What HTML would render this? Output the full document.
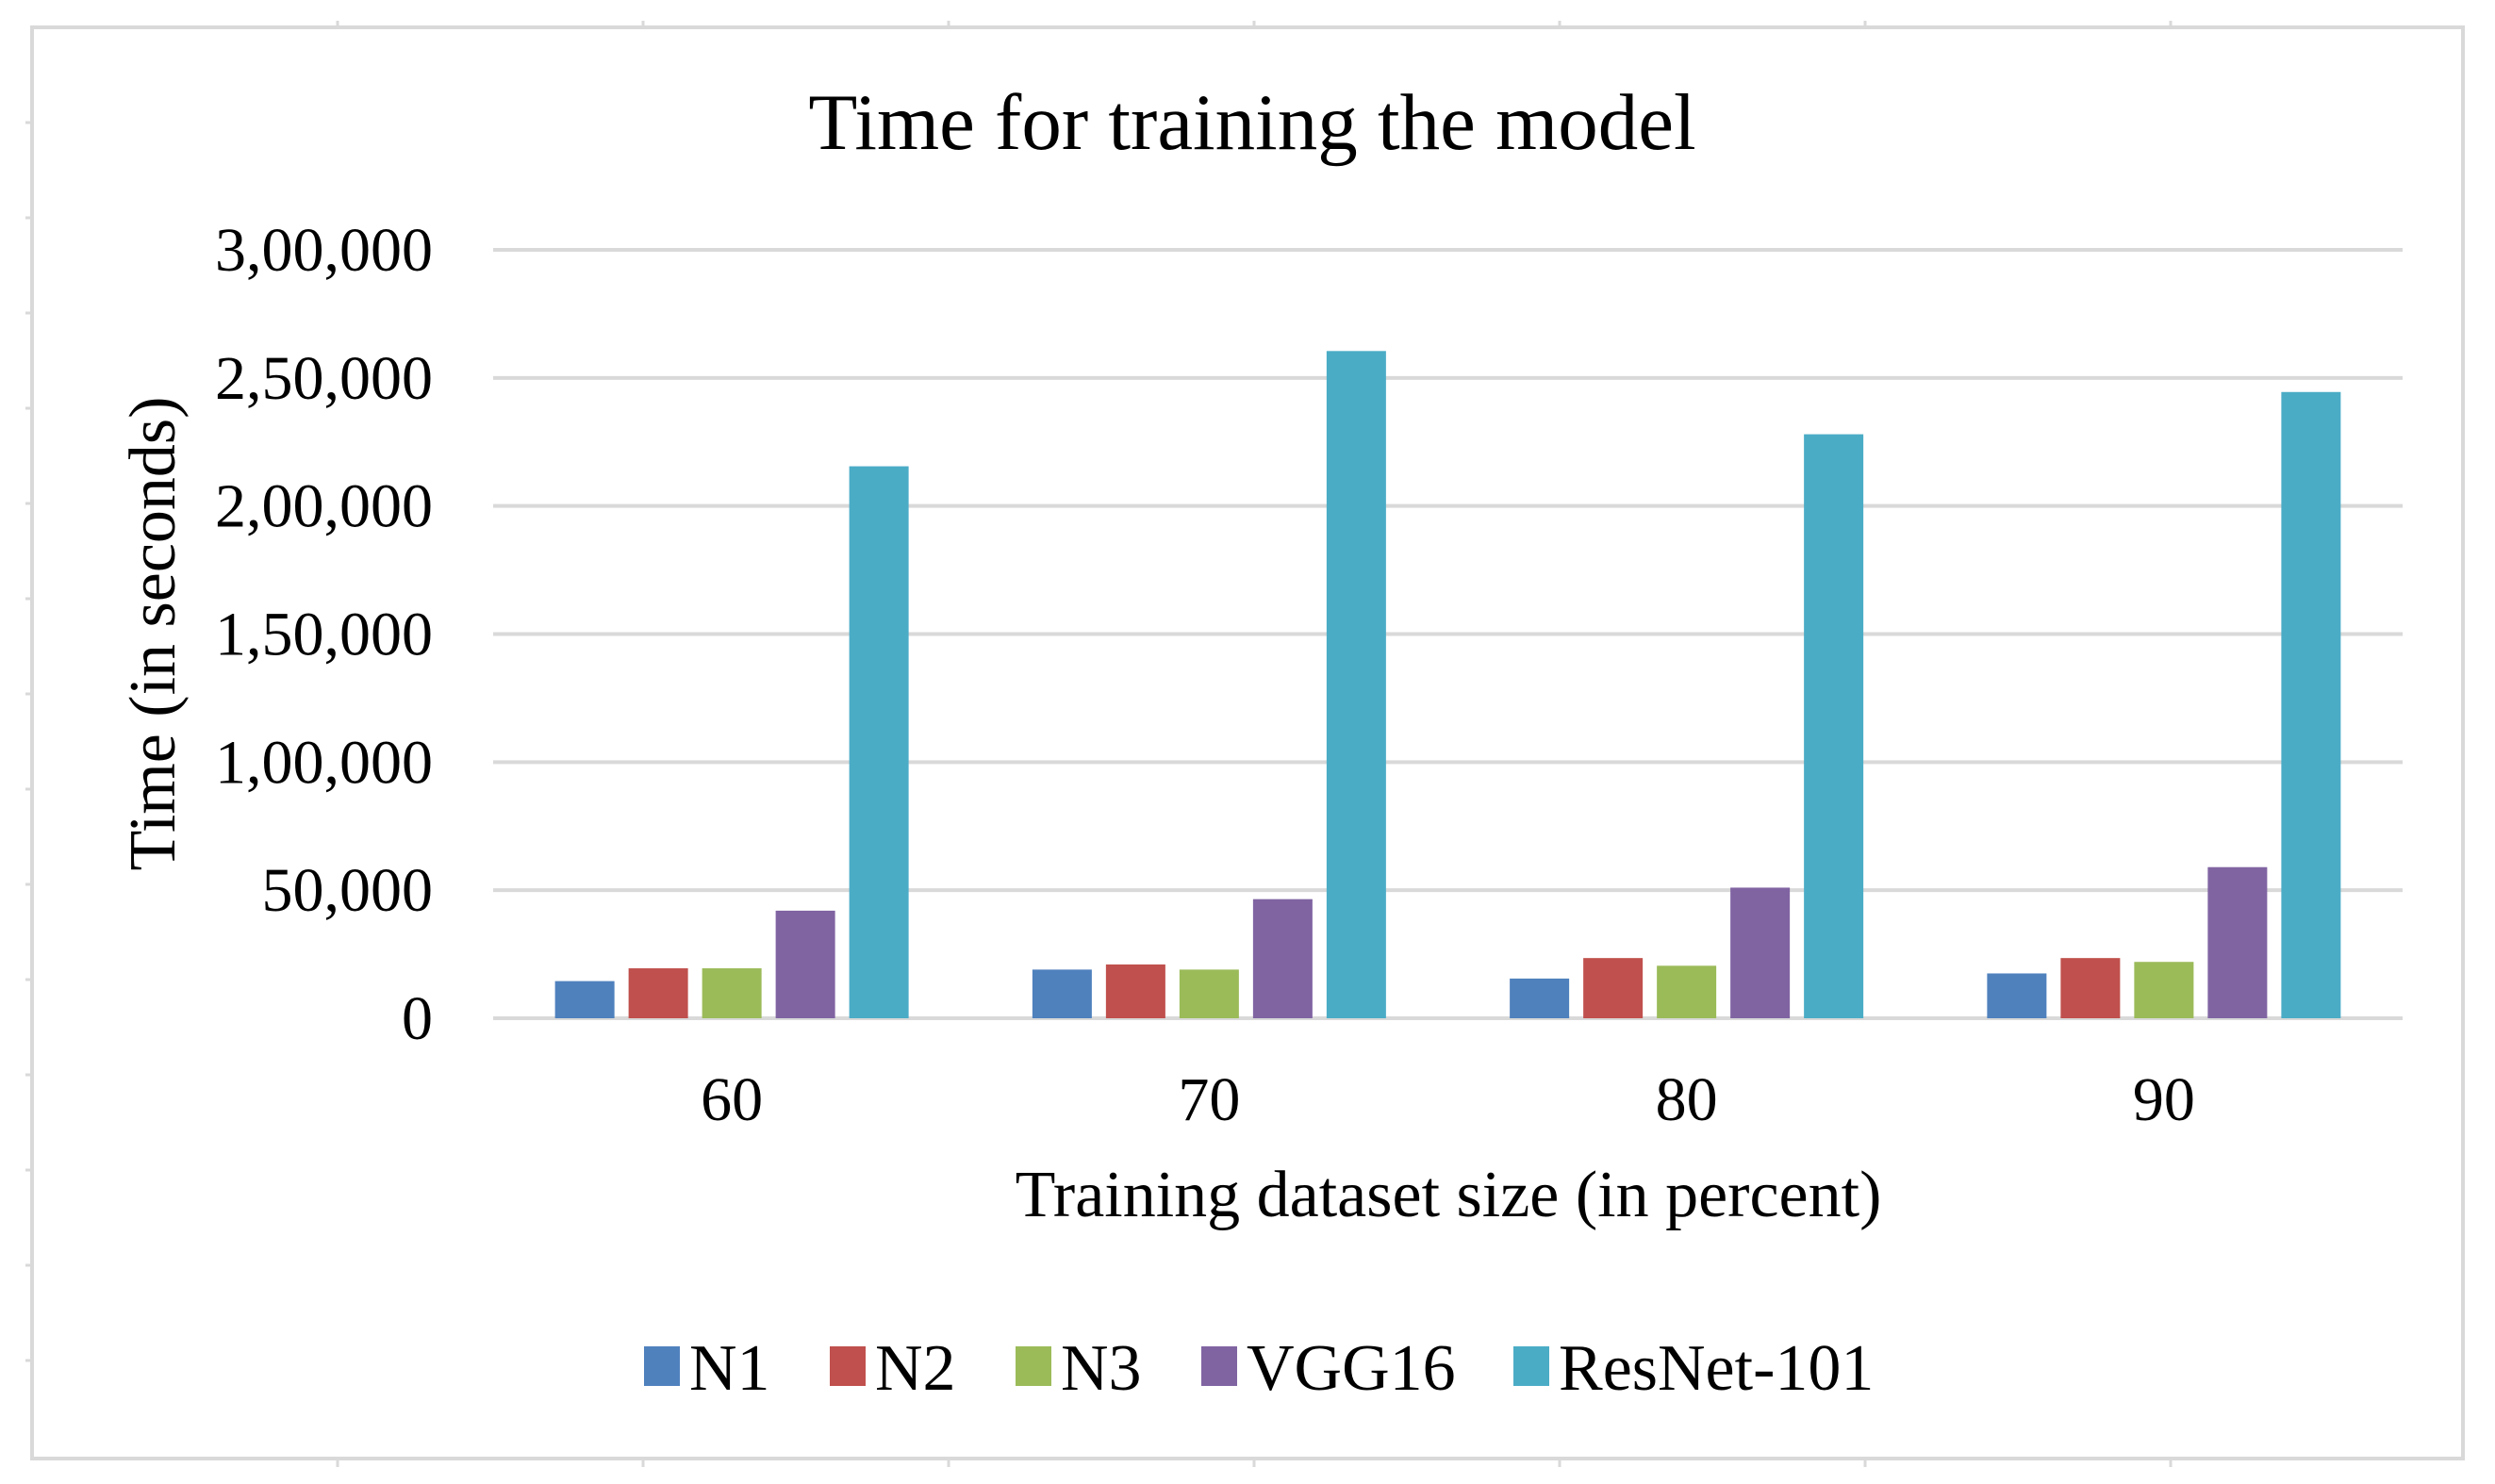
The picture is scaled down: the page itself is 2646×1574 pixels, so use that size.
<!DOCTYPE html>
<html><head><meta charset="utf-8"><style>
html,body{margin:0;padding:0;background:#fff;}
svg{display:block;font-family:"Liberation Serif",serif;}
</style></head><body>
<svg id="chart" width="2646" height="1574" viewBox="0 0 2646 1574" xmlns="http://www.w3.org/2000/svg">
<rect x="34" y="29" width="2578" height="1518" fill="#fff" stroke="#d9d9d9" stroke-width="4"/>
<g id="frameTicks"></g>
<text x="1328" y="158" font-size="85" text-anchor="middle" fill="#000">Time for training the model</text>
<g id="grid"></g>
<g id="bars"></g>
<g id="yticks"></g>
<g id="xticks"></g>
<text transform="translate(185,672) rotate(-90)" font-size="70" text-anchor="middle" fill="#000">Time (in seconds)</text>
<text x="1536" y="1290" font-size="70" text-anchor="middle" fill="#000">Training dataset size (in percent)</text>
<g id="legend"></g>
</svg>
<script>
const categories = ["60", "70", "80", "90"];
const seriesNames = ["N1", "N2", "N3", "VGG16", "ResNet-101"];
const n1 = [14500, 19000, 15500, 17500];
const n2 = [19500, 21000, 23500, 23500];
const n3 = [19500, 19000, 20500, 22000];
const vgg16 = [42000, 46500, 51000, 59000];
const resnet101 = [215500, 260500, 228000, 244500];
const yTicks = [0, 50000, 100000, 150000, 200000, 250000, 300000];
const yTickLabels = ["0", "50,000", "1,00,000", "1,50,000", "2,00,000", "2,50,000", "3,00,000"];

const seriesValues = [n1, n2, n3, vgg16, resnet101];
const colors = ["#4F81BD", "#C0504D", "#9BBB59", "#8064A2", "#4BACC6"];
const NS = "http://www.w3.org/2000/svg";
const plotL = 523, plotR = 2548, plotTop = 265, plotBot = 1080, yMax = 300000;
const catW = (plotR - plotL) / categories.length;
function yScale(v){ return plotBot - (v / yMax) * (plotBot - plotTop); }
function xCenter(i){ return plotL + catW * (i + 0.5); }
const barW = 63, barStep = 78;
function mk(tag, attrs, parent){ const e = document.createElementNS(NS, tag); for (const k in attrs) e.setAttribute(k, attrs[k]); parent.appendChild(e); return e; }

const ft = document.getElementById('frameTicks');
for (let i = 0; i < 8; i++) {
  const x = 358 + i * 324;
  if (x > 2600) break;
  mk('line', {x1:x, y1:22, x2:x, y2:29, stroke:'#d9d9d9', 'stroke-width':3}, ft);
  mk('line', {x1:x, y1:1547, x2:x, y2:1556, stroke:'#d9d9d9', 'stroke-width':3}, ft);
}
for (let y = 130; y < 1540; y += 101) {
  mk('line', {x1:27, y1:y, x2:34, y2:y, stroke:'#d9d9d9', 'stroke-width':3}, ft);
}

const grid = document.getElementById('grid');
const yt = document.getElementById('yticks');
yTicks.forEach((v, i) => {
  const y = yScale(v);
  const l = mk('line', {x1:plotL, y1:y, x2:plotR, y2:y, stroke:'#d9d9d9', 'stroke-width':4}, grid);
  
  
  const t = mk('text', {x:459, y:y + 22, 'font-size':66, 'text-anchor':'end', fill:'#000'}, yt);
  
  
  t.textContent = yTickLabels[i];
});

const bars = document.getElementById('bars');
const xt = document.getElementById('xticks');
categories.forEach((c, i) => {
  const cx = xCenter(i);
  seriesValues.forEach((vals, s) => {
    const x = cx + (s - 2) * barStep - barW / 2;
    const y = yScale(vals[i]);
    const r = mk('rect', {x:x, y:y, width:barW, height:plotBot - y, fill:colors[s]}, bars);
    
    
  });
  const t = mk('text', {x:cx, y:1188, 'font-size':66, 'text-anchor':'middle', fill:'#000'}, xt);
  
  
  t.textContent = c;
});

const lg = document.getElementById('legend');
const legX = [683, 880, 1077, 1274, 1605];
seriesNames.forEach((n, s) => {
  const g = mk('g', {}, lg);
  
  
  mk('rect', {x:legX[s], y:1428, width:38, height:42, fill:colors[s]}, g);
  const t = mk('text', {x:legX[s] + 48, y:1474, 'font-size':70, fill:'#000'}, g);
  t.textContent = n;
});
</script>
</body></html>
